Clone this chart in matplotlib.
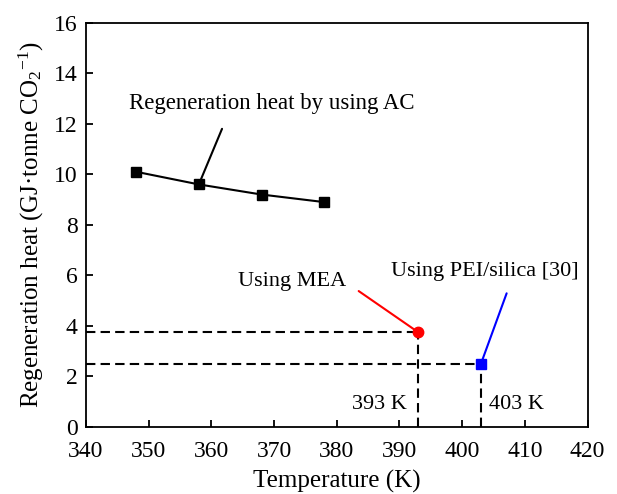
import matplotlib
matplotlib.use("Agg")
import matplotlib.pyplot as plt

# regeneration heat with activated carbon
temp_ac = [348, 358, 368, 378]
heat_ac = [10.1, 9.6, 9.2, 8.9]

# reference points
temp_mea = [393]
heat_mea = [3.75]
temp_pei = [403]
heat_pei = [2.5]

xticks = [340, 350, 360, 370, 380, 390, 400, 410, 420]
yticks = [0, 2, 4, 6, 8, 10, 12, 14, 16]

plt.rcParams['font.family'] = ['Liberation Serif', 'DejaVu Serif']
plt.rcParams['mathtext.fontset'] = 'custom'
plt.rcParams['mathtext.rm'] = 'Liberation Serif'
plt.rcParams['mathtext.it'] = 'Liberation Serif:italic'

fig = plt.figure(figsize=(6.17, 4.94), dpi=100)
ax = fig.add_axes([86/617, 1-427/494, (587.5-86)/617, (427-22.7)/494])

ax.plot(temp_ac, heat_ac, color='black', lw=1.5, marker='s', ms=6.5, zorder=3)

dash = (0, (4.5, 2.5))
ax.plot([340, temp_mea[0]], [heat_mea[0], heat_mea[0]], color='black', lw=1.5, ls=dash)
ax.plot([temp_mea[0], temp_mea[0]], [0, heat_mea[0]], color='black', lw=1.5, ls=dash)
ax.plot([340, temp_pei[0]], [heat_pei[0], heat_pei[0]], color='black', lw=1.5, ls=dash)
ax.plot([temp_pei[0], temp_pei[0]], [0, heat_pei[0]], color='black', lw=1.5, ls=dash)

ax.plot(temp_mea, heat_mea, ls='none', marker='o', ms=7.5, color='red', zorder=4)
ax.plot(temp_pei, heat_pei, ls='none', marker='s', ms=7, color='blue', zorder=4)

# leader lines
ax.annotate('', xy=(temp_ac[1], heat_ac[1]), xytext=(361.7, 11.8),
            arrowprops=dict(arrowstyle='-', color='black', lw=1.5, shrinkA=0, shrinkB=0))
ax.annotate('', xy=(temp_mea[0], heat_mea[0]), xytext=(383.5, 5.38),
            arrowprops=dict(arrowstyle='-', color='red', lw=1.5, shrinkA=0, shrinkB=0))
ax.annotate('', xy=(temp_pei[0], heat_pei[0]), xytext=(407.1, 5.29),
            arrowprops=dict(arrowstyle='-', color='blue', lw=1.5, shrinkA=0, shrinkB=0))

ax.text(346.9, 12.57, 'Regeneration heat by using AC', fontsize=16.5, va='baseline')
ax.text(364.3, 5.59, 'Using MEA', fontsize=16, va='baseline')
ax.text(388.7, 5.98, 'Using PEI/silica [30]', fontsize=16, va='baseline')
ax.text(382.5, 0.71, '393 K', fontsize=16, va='baseline')
ax.text(404.3, 0.71, '403 K', fontsize=16, va='baseline')

ax.set_xlim(340, 420)
ax.set_ylim(0, 16)
ax.set_xticks(xticks)
ax.set_yticks(yticks)
ax.tick_params(direction='in', length=5, width=1.3, labelsize=17,
               top=False, right=False)
ax.tick_params(axis='x', pad=10)
ax.tick_params(axis='y', pad=6)
for s in ax.spines.values():
    s.set_linewidth(1.3)

ax.set_xlabel('Temperature (K)', fontsize=18, labelpad=5.5)
ax.set_ylabel('Regeneration heat (GJ\u00b7tonne CO$_2$$^{-1}$)', fontsize=18, labelpad=6)

fig.savefig('out.png', dpi=100)
